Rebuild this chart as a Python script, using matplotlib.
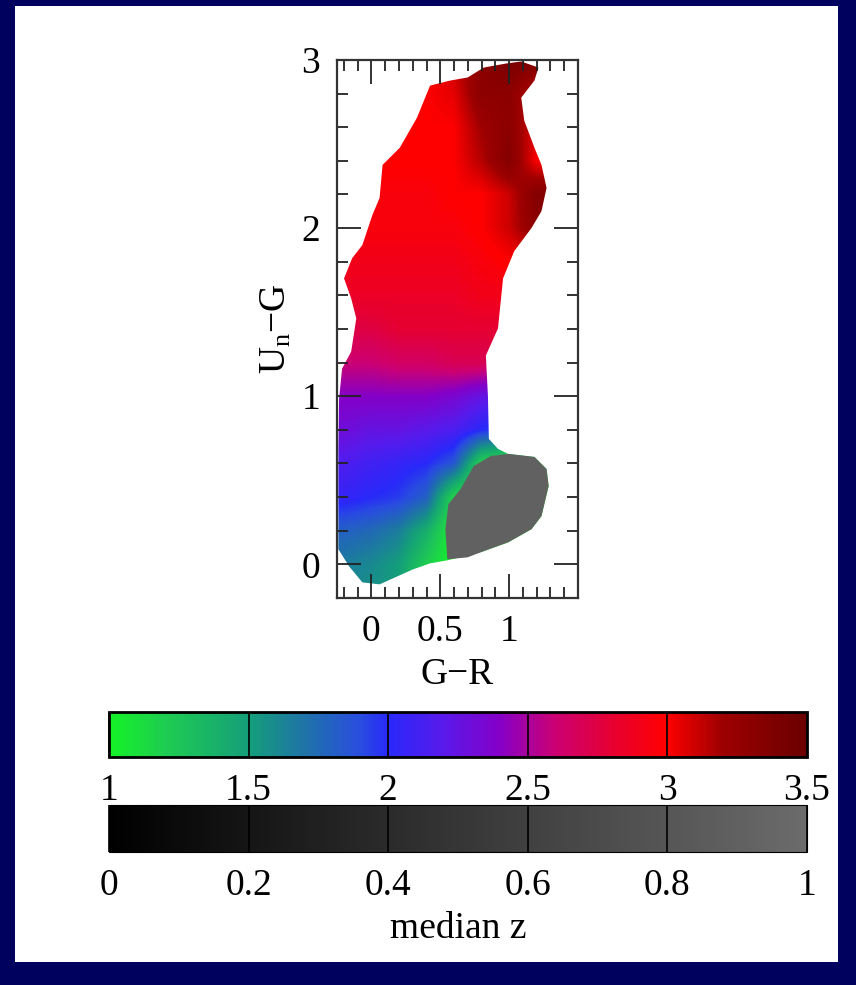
import numpy as np
import matplotlib
matplotlib.use("Agg")
import matplotlib.pyplot as plt
from matplotlib.colors import LinearSegmentedColormap, Normalize
from matplotlib.cm import ScalarMappable
from matplotlib.path import Path
from matplotlib.patches import PathPatch, Rectangle
from matplotlib.ticker import MultipleLocator, FixedLocator, FuncFormatter

plt.rcParams["font.family"] = ["Liberation Serif", "DejaVu Serif"]
plt.rcParams["mathtext.default"] = "regular"

# median redshift on a coarse colour-colour grid (rows: U_n-G, cols: G-R)
grid_x = [-0.2, 0.0, 0.2, 0.4, 0.6, 0.8, 1.0, 1.2, 1.4]
grid_y = [-0.2, 0.0, 0.2, 0.4, 0.6, 0.8, 1.0, 1.2, 1.4, 1.6,
          1.8, 2.0, 2.2, 2.4, 2.6, 2.8, 3.0]
median_z = [
    [1.60, 1.55, 1.50, 1.30, 1.00, 1.00, 1.00, 1.00, 1.00],
    [1.65, 1.60, 1.50, 1.20, 1.00, 1.00, 1.00, 1.00, 1.00],
    [1.80, 1.75, 1.65, 1.40, 1.00, 1.00, 1.00, 1.00, 1.00],
    [2.05, 2.00, 1.95, 1.80, 1.15, 1.00, 1.00, 1.00, 1.00],
    [2.15, 2.10, 2.05, 2.00, 1.85, 1.15, 1.00, 1.00, 1.00],
    [2.30, 2.25, 2.25, 2.20, 2.15, 2.00, 1.90, 1.90, 1.90],
    [2.40, 2.40, 2.40, 2.40, 2.35, 2.25, 2.20, 2.20, 2.20],
    [2.60, 2.60, 2.65, 2.65, 2.70, 2.70, 2.70, 2.70, 2.70],
    [2.75, 2.75, 2.80, 2.80, 2.80, 2.80, 2.80, 2.80, 2.80],
    [2.85, 2.85, 2.85, 2.85, 2.85, 2.90, 2.90, 2.90, 2.90],
    [2.90, 2.90, 2.90, 2.90, 2.90, 2.95, 3.00, 3.00, 3.00],
    [2.95, 2.95, 2.95, 2.95, 2.95, 3.00, 3.10, 3.30, 3.30],
    [2.95, 2.95, 2.95, 2.95, 3.00, 3.00, 3.10, 3.35, 3.35],
    [3.00, 3.00, 3.00, 3.00, 3.00, 3.15, 3.35, 3.00, 3.00],
    [3.00, 3.00, 3.00, 3.00, 3.00, 3.20, 3.30, 3.05, 3.05],
    [3.00, 3.00, 3.00, 3.00, 3.05, 3.30, 3.30, 3.10, 3.10],
    [3.00, 3.00, 3.00, 3.00, 3.10, 3.30, 3.40, 3.40, 3.40],
]

# edge of the populated colour region
outline_x = [0.426, 0.574, 0.699, 0.816, 0.978, 1.088, 1.213, 1.184, 1.088,
             1.110, 1.184, 1.235, 1.272, 1.235, 1.162, 1.037, 0.956, 0.919,
             0.831, 0.846, 0.853, 0.919, 0.993, 1.184, 1.272, 1.287, 1.235,
             1.162, 0.993, 0.794, 0.551, 0.426, 0.301, 0.059, -0.066, -0.162,
             -0.240, -0.240, -0.235, -0.213, -0.147, -0.110, -0.147, -0.199,
             -0.140, -0.066, 0.007, 0.059, 0.081, 0.206, 0.331]
outline_y = [2.848, 2.878, 2.896, 2.955, 2.979, 2.991, 2.955, 2.878, 2.776,
             2.639, 2.478, 2.376, 2.239, 2.101, 2.000, 1.863, 1.701, 1.403,
             1.242, 1.003, 0.746, 0.687, 0.657, 0.639, 0.567, 0.466, 0.287,
             0.209, 0.131, 0.072, 0.024, 0.006, -0.030, -0.119, -0.107, -0.012,
             0.090, 0.687, 0.985, 1.164, 1.266, 1.463, 1.582, 1.701,
             1.821, 1.899, 2.078, 2.179, 2.376, 2.478, 2.657]

# stellar locus patch shaded on the grey scale
gray_x = [0.993, 1.184, 1.272, 1.287, 1.235, 1.162, 0.993, 0.794, 0.699,
          0.551, 0.537, 0.559, 0.647, 0.743, 0.868]
gray_y = [0.657, 0.639, 0.567, 0.466, 0.287, 0.209, 0.131, 0.072, 0.042,
          0.030, 0.209, 0.358, 0.448, 0.585, 0.645]
gray_level = 0.9

x_ticks = [0, 0.5, 1]
z_ticks = [1, 1.5, 2, 2.5, 3, 3.5]
g_ticks = [0, 0.2, 0.4, 0.6, 0.8, 1]

z_cmap = LinearSegmentedColormap.from_list("zmap", [
    (0.00, (0.08, 0.95, 0.15)),
    (0.08, (0.12, 0.80, 0.32)),
    (0.20, (0.08, 0.62, 0.48)),
    (0.28, (0.12, 0.45, 0.66)),
    (0.36, (0.16, 0.30, 0.88)),
    (0.40, (0.16, 0.16, 0.98)),
    (0.48, (0.35, 0.10, 0.92)),
    (0.56, (0.52, 0.00, 0.78)),
    (0.64, (0.80, 0.00, 0.45)),
    (0.72, (0.90, 0.00, 0.20)),
    (0.80, (1.00, 0.00, 0.00)),
    (0.88, (0.62, 0.00, 0.00)),
    (1.00, (0.42, 0.00, 0.00)),
])
z_norm = Normalize(1, 3.5)
g_cmap = LinearSegmentedColormap.from_list("gmap", [(0, 0, 0), (0.42, 0.42, 0.42)])
g_norm = Normalize(0, 1)

fmt = FuncFormatter(lambda v, p: "%g" % v)
fs = 27

fig = plt.figure(figsize=(8.56, 9.85), dpi=100, facecolor="#00005e")
fig.patches.append(Rectangle((15 / 856, 1 - 962 / 985), 823 / 856, 956 / 985,
                             transform=fig.transFigure, facecolor="white",
                             edgecolor="none", zorder=-10))

ax = fig.add_axes([0.3937, 0.3929, 0.2815, 0.5462])
ax.patch.set_alpha(0)
dx, dy = 0.2, 0.2
im = ax.imshow(np.array(median_z), origin="lower", cmap=z_cmap, norm=z_norm,
               extent=(grid_x[0] - dx / 2, grid_x[-1] + dx / 2,
                       grid_y[0] - dy / 2, grid_y[-1] + dy / 2),
               interpolation="bilinear", interpolation_stage="data", aspect="auto")
verts = np.column_stack([outline_x + outline_x[:1], outline_y + outline_y[:1]])
region = PathPatch(Path(verts, closed=True), transform=ax.transData,
                   facecolor="none", edgecolor="none")
ax.add_patch(region)
im.set_clip_path(region)
ax.fill(gray_x, gray_y, color=g_cmap(g_norm(gray_level)), lw=0, zorder=3)

ax.set_xlim(-0.25, 1.5)
ax.set_ylim(-0.2, 3.0)
ax.xaxis.set_major_locator(FixedLocator(x_ticks))
ax.xaxis.set_minor_locator(MultipleLocator(0.1))
ax.yaxis.set_major_locator(MultipleLocator(1))
ax.yaxis.set_minor_locator(MultipleLocator(0.2))
ax.xaxis.set_major_formatter(fmt)
ax.yaxis.set_major_formatter(fmt)
ax.tick_params(which="both", direction="in", top=True, right=True,
               width=1.3, color="#222222", labelsize=fs, pad=12)
ax.tick_params(which="major", length=17)
ax.tick_params(which="minor", length=8)
for s in ax.spines.values():
    s.set_linewidth(1.6)
    s.set_color("#333333")
ax.set_xlabel("G\u2212R", fontsize=fs, labelpad=6)
ax.set_ylabel("$U_n$\u2212G", fontsize=fs, labelpad=6)

# redshift colour bar
cax1 = fig.add_axes([0.1273, 0.2315, 0.8154, 0.0457])
cb1 = fig.colorbar(ScalarMappable(norm=z_norm, cmap=z_cmap), cax=cax1,
                   orientation="horizontal")
cb1.set_ticks(z_ticks)
cb1.ax.xaxis.set_major_formatter(fmt)
cb1.ax.tick_params(direction="in", length=32, width=1.2, color="black",
                   labelsize=fs, pad=12)
cb1.outline.set_linewidth(2)

# grey scale bar for the stellar patch
cax2 = fig.add_axes([0.1273, 0.135, 0.8154, 0.0477])
cb2 = fig.colorbar(ScalarMappable(norm=g_norm, cmap=g_cmap), cax=cax2,
                   orientation="horizontal")
cb2.set_ticks(g_ticks)
cb2.ax.xaxis.set_major_formatter(fmt)
cb2.ax.tick_params(direction="in", length=34, width=1.2, color="black",
                   labelsize=fs, pad=12)
cb2.outline.set_linewidth(0.8)
cb2.set_label("median z", fontsize=fs, labelpad=6)

fig.savefig("out.png", dpi=100, facecolor=fig.get_facecolor())
